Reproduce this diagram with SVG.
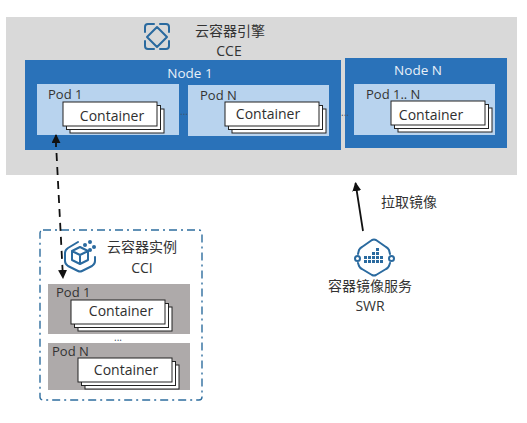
<svg xmlns="http://www.w3.org/2000/svg" width="527" height="423" viewBox="0 0 527 423">
<defs>
<style>
text{font-family:"Open Sans","Noto Sans CJK SC",sans-serif;fill:#333;font-size:13px}
.zh{font-size:14px}
.node{fill:#2a72b9}
.pod{fill:#b8d3ee}
.gpod{fill:#aeaaaa}
.card{fill:#fff;stroke:#222;stroke-width:1}
.wh{fill:#e8f0f8;font-size:13.500px}
.ic{fill:none;stroke:#2a6a9f;stroke-width:2;stroke-linecap:round;stroke-linejoin:round}
.cn{font-size:14px;fill:#2f2f2f}
.dots{font-size:10px;fill:#3f5368}
.conn{fill:none;stroke:#111;stroke-width:1.800}
</style>
<marker id="ah" viewBox="0 0 10 10" refX="9" refY="5" markerWidth="5" markerHeight="5" orient="auto-start-reverse"><path d="M0 0L10 5L0 10z" fill="#111"/></marker>
<g id="stack"><rect class="card" x="7" y="7" width="94" height="24"/><rect class="card" x="3.500" y="3.500" width="94" height="24"/><rect class="card" x="0" y="0" width="94" height="24"/></g>
</defs>
<rect width="527" height="423" fill="#fff"/>
<g id="cce">
<rect x="6" y="17" width="511" height="158" fill="#d9d9d9"/>
<path class="ic" d="M145 32v-5q0-3 3-3h6M160 24h6q3 0 3 3v5M145 41v5q0 3 3 3h6M160 49h6q3 0 3-3v-5M157 27l10 10l-10 10l-10-10z"/>
<text class="zh" x="230" y="36" text-anchor="middle">云容器引擎</text>
<text class="zh" x="229" y="56" text-anchor="middle">CCE</text>
</g>
<g id="node1">
<rect class="node" x="25" y="60" width="316" height="90"/>
<text class="wh" x="190" y="78" text-anchor="middle">Node 1</text>
</g>
<g id="pod-1">
<rect class="pod" x="37" y="84" width="142" height="51"/>
<text x="48" y="99">Pod 1</text>
<use href="#stack" x="63" y="102"/>
<text class="cn" x="112" y="121" text-anchor="middle">Container</text>
</g>
<g id="pod-n">
<rect class="pod" x="188" y="85" width="141" height="51"/>
<text x="200" y="100">Pod N</text>
<use href="#stack" x="225" y="102"/>
<text class="cn" x="268" y="119" text-anchor="middle">Container</text>
</g>
<text class="dots" x="184" y="115" text-anchor="middle">...</text>
<g id="noden">
<rect class="node" x="345" y="58" width="162" height="90"/>
<text class="wh" x="418" y="75" text-anchor="middle">Node N</text>
<rect class="pod" x="354" y="84" width="141" height="51"/>
<text x="366" y="99">Pod 1.. N</text>
<use href="#stack" x="391" y="101"/>
<text class="cn" x="431" y="120" text-anchor="middle">Container</text>
</g>
<text class="dots" x="345" y="116" text-anchor="middle">...</text>
<g id="cci">
<rect x="40" y="230" width="162" height="170" rx="3" fill="none" stroke="#2e6d9e" stroke-width="1.400" stroke-dasharray="8 4 2 4"/>
<path class="ic" d="M78 242l-10 6q-3 2-3 5v8q0 3 3 5l10 5q2 1 4 0l10-5q3-2 3-5v-4" stroke-width="2.400"/>
<path class="ic" d="M80 247l8 4v9l-8 4l-8-4v-9zM72 251l8 4l8-4M80 255v9" stroke-width="1.400"/>
<circle cx="85" cy="245" r="2" fill="#2a6a9f"/><circle cx="90" cy="242" r="2" fill="#2a6a9f"/><circle cx="94" cy="247" r="2" fill="#2a6a9f"/><circle cx="90" cy="250" r="2" fill="#2a6a9f"/>
<text class="zh" x="142" y="252" text-anchor="middle">云容器实例</text>
<text class="zh" x="142" y="273" text-anchor="middle">CCI</text>
</g>
<g id="cci-pod-1">
<rect class="gpod" x="48" y="284" width="142" height="50"/>
<text x="56" y="297">Pod 1</text>
<use href="#stack" x="71" y="300"/>
<text class="cn" x="121" y="316" text-anchor="middle">Container</text>
</g>
<g id="cci-pod-n">
<rect class="gpod" x="48" y="343" width="142" height="47"/>
<text x="52" y="356">Pod N</text>
<use href="#stack" x="78" y="358"/>
<text class="cn" x="126" y="375" text-anchor="middle">Container</text>
</g>
<text class="dots" x="118" y="341" text-anchor="middle">...</text>
<g id="swr">
<path class="ic" d="M358 254l1-4q1-2 3-3l10-7q2-1 4 0l10 7q2 1 3 3l1 4M358 263l1 3q1 2 3 3l10 6q2 1 4 0l10-6q2-1 3-3l1-3" stroke-width="2.200"/>
<circle class="ic" cx="357.500" cy="258.500" r="2.500" stroke-width="1.400"/><circle class="ic" cx="391.500" cy="258.500" r="2.500" stroke-width="1.400"/>
<path d="M364 256h3v3h-3zM368 256h3v3h-3zM372 256h3v3h-3zM376 256h3v3h-3zM380 256h3v3h-3zM364 260h3v3h-3zM368 260h3v3h-3zM372 260h3v3h-3zM376 260h3v3h-3zM380 260h3v3h-3zM372 252h3v3h-3zM376 252h3v3h-3zM376 248h3v3h-3z" fill="#2a6a9f"/>
<text class="zh" x="370" y="291" text-anchor="middle">容器镜像服务</text>
<text class="zh" x="370" y="311" text-anchor="middle">SWR</text>
</g>
<g id="connectors">
<path class="conn" stroke-width="2" d="M56 147V135" marker-end="url(#ah)"/>
<path class="conn" stroke-dasharray="8 6" d="M56.500 153L63 278" marker-end="url(#ah)"/>
<path class="conn" d="M363 231L355.500 183" marker-end="url(#ah)"/>
<text class="zh" x="409" y="207" text-anchor="middle">拉取镜像</text>
</g>
</svg>
